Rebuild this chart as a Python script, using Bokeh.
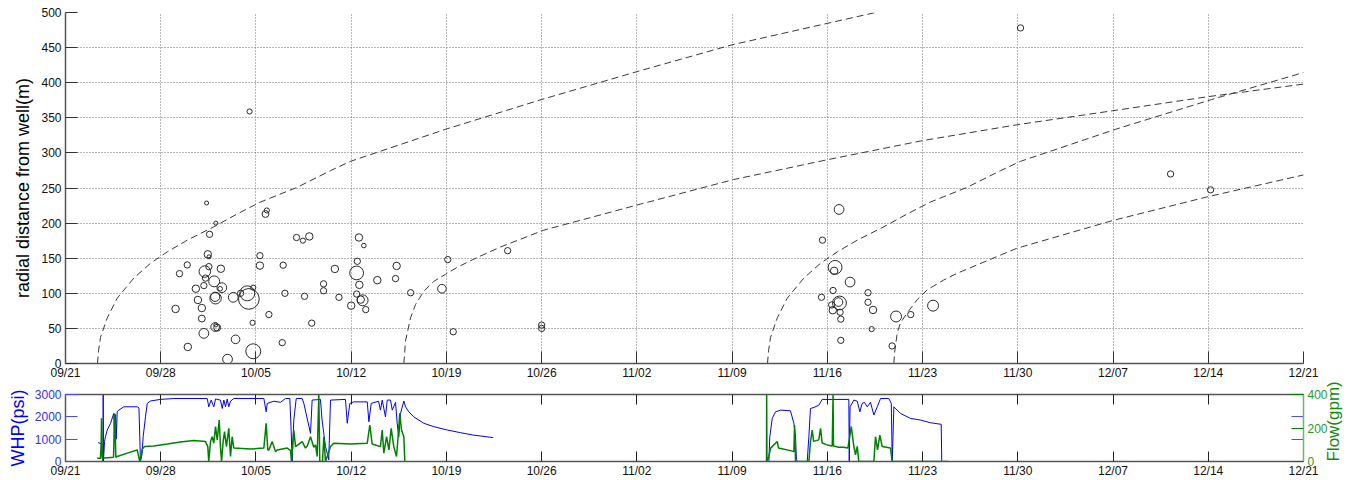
import math
from bokeh.plotting import figure
from bokeh.layouts import column
from bokeh.models import Range1d, LinearAxis, FixedTicker
from bokeh.embed import file_html
from bokeh.resources import INLINE

NAN = float("nan")
FONT = "Liberation Sans"

# ---------------- axes ----------------
tick_days = [0, 7, 14, 21, 28, 35, 42, 49, 56, 63, 70, 77, 84, 91]
tick_labels = ["09/21", "09/28", "10/05", "10/12", "10/19", "10/26", "11/02",
               "11/09", "11/16", "11/23", "11/30", "12/07", "12/14", "12/21"]
dist_ticks = [0, 50, 100, 150, 200, 250, 300, 350, 400, 450, 500]
whp_ticks = [0, 1000, 2000, 3000]
flow_ticks = [0, 200, 400]

# ---------------- seismic events (days after 09/21, radial distance m, relative size) ----------------
ev_day = [10.37, 14.70, 14.80, 11.05, 10.59, 10.46, 10.55, 14.29, 8.95, 10.54,
          11.42, 14.29, 16.0, 8.38, 10.24, 10.29, 10.93, 11.49, 11.37, 9.58,
          10.17, 11.03, 11.0, 12.33, 13.36, 13.48, 12.87, 13.8, 16.13, 9.73,
          10.02, 8.09, 10.02, 14.95, 11.0, 11.15, 11.05, 13.75, 10.17, 12.5,
          8.99, 15.93, 13.8, 11.91, 16.98, 17.45, 17.92, 21.57, 21.93, 19.8,
          21.45, 21.4, 22.92, 24.34, 24.26, 18.97, 18.97, 21.6, 17.57, 20.1,
          21.4, 21.84, 21.7, 21.0, 22.07, 25.37, 18.1, 28.1, 32.5, 27.67,
          28.5, 35.0, 35.0, 56.86, 55.64, 56.57, 56.5, 57.67, 56.42, 55.57,
          56.89, 56.82, 56.32, 56.4, 56.94, 56.99, 58.99, 58.99, 59.36, 59.26,
          56.99, 61.05, 62.13, 63.77, 60.76, 13.53, 70.2, 81.23, 84.17]
ev_dist = [228.6, 213, 218, 200, 184, 155.5, 152, 153.6, 140.4, 138,
           135, 139.5, 140, 128, 131, 121.6, 117, 108, 106.5, 106.5,
           111, 93, 95, 94.3, 100, 92, 100, 108, 100, 90.5,
           79, 77.7, 64, 69.7, 52, 51, 55, 58, 42.9, 34.4,
           23.6, 29.7, 17.4, 6.1, 179.5, 175, 181, 179.5, 168, 134.7,
           145.6, 129, 118.7, 139, 121, 113.5, 103.6, 112, 95.7, 94.3,
           99, 90, 91, 82.4, 76.8, 100.8, 57.5, 148, 160.7, 106.5,
           45.2, 54.7, 50, 219.5, 175.7, 137, 132, 116, 104, 94.3,
           86.2, 87.5, 83.4, 75.9, 73, 63.2, 100.8, 87.2, 76.3, 49,
           33, 67, 69.7, 82.4, 25, 359, 478, 270, 247.4]
ev_size = [3.5, 6, 4.5, 3.5, 5.5, 6.5, 3.5, 5.5, 5.5, 5.5,
           6.5, 6.5, 5.5, 5.5, 10, 5.5, 9.5, 8.5, 4, 6.5,
           5.5, 10, 8, 8.5, 13, 18, 5.5, 4.5, 5.5, 6.5,
           6.5, 6.5, 6, 5.5, 7.5, 6, 3.5, 4.5, 8.5, 7.5,
           6.5, 5.5, 13, 8.5, 5.5, 4.5, 6.5, 6.5, 4, 6.5,
           5.5, 12, 6.5, 6.5, 5.5, 5.5, 5.5, 6.5, 5.5, 5.5,
           5.5, 9.5, 6.5, 6.5, 5.5, 5.5, 5.5, 5.5, 5.5, 7.5,
           5.5, 5.5, 5.5, 8.5, 5.5, 12, 6.5, 8.5, 5.5, 5.5,
           12, 7.5, 5.5, 6.5, 5.5, 5.5, 5.5, 5.5, 6.5, 4.5,
           5.5, 9.5, 5.5, 9.5, 5.5, 4.5, 5.5, 5.5, 5.5]

# ---------------- triggering fronts ----------------
front_a_day = [2.35, 2.43, 2.57, 3.07, 3.80, 5.02, 6.25, 7.48, 8.95, 10.90,
               12.62, 14.33, 17.03, 19.48, 20.95, 27.93, 34.99, 41.97, 48.96, 59.54]
front_a_r = [0, 18, 37, 65, 93, 121.6, 142.8, 159, 175.7, 194.7,
             213, 230, 251, 274.7, 288, 333.6, 376, 415.6, 453.8, 500]
front_b_day = [24.87, 24.92, 24.99, 25.14, 25.36, 25.73, 26.34, 27.07, 27.93, 28.79,
               30.26, 31.98, 35.16, 42.26, 49.10, 55.94, 62.85, 69.91, 76.96, 83.95, 91.0]
front_b_r = [0, 12, 32, 45, 65, 84, 103, 117, 127, 137,
             151, 166, 190, 227, 262, 290, 317, 340, 360, 380, 398]
front_c_day = [51.60, 51.68, 51.82, 52.32, 53.05, 54.27, 55.50, 56.73, 58.20, 60.15,
               61.87, 63.58, 66.28, 68.73, 70.20, 77.18, 84.24, 91.0]
front_c_r = [0, 18, 37, 65, 93, 121.6, 142.8, 159, 175.7, 194.7,
             213, 230, 251, 274.7, 288, 333.6, 376, 414.5]
front_d_day = [60.89, 60.94, 61.14, 61.38, 61.87, 62.61, 63.34, 64.56, 65.55, 69.91,
               76.96, 83.95, 91.0]
front_d_r = [0, 15, 44, 58, 72, 91, 105, 119, 128.6, 164,
             203.6, 237.5, 268.6]

# ---------------- well head pressure (psi) ----------------
whp_day = [2.40, 2.65, 2.76, 2.77, 2.79, 2.87, 2.94, 3.07, 3.31, 3.55,
           3.60, 3.68, 3.73, 3.80, 3.92, 4.29, 5.27, 5.40, 5.51, 5.62,
           5.71, 5.88, 6.01, 6.25, 6.98, 7.96, 10.42, 10.53, 10.71, 10.90,
           11.03, 11.39, 11.52, 11.64, 11.76, 11.89, 12.0, 12.13, 12.37, 14.58,
           14.75, 14.83, 15.31, 15.80, 16.17, 16.49, 16.58, 16.66, 16.78, 16.96,
           17.40, 17.52, 18.01, 18.13, 18.74, 18.86, 19.11, 19.35, 19.48, 20.58,
           20.71, 20.90, 21.19, 22.18, 22.30, 22.47, 23.01, 23.15, 23.28, 23.52,
           23.65, 23.89, 24.02, 24.26, 24.38, 24.50, 24.63, 24.87, 24.99, 25.24,
           25.60, 26.34, 27.07, 28.06, 29.04, 30.01, 31.44, NAN,
           51.70, 51.77, 51.95, 52.19, 52.56, 53.29, 53.54, 53.66, 53.73, 53.81,
           54.52, 54.64, 54.76, 55.01, 55.37, 55.62, 57.58, 57.61, 57.67, 57.95,
           58.20, 58.39, 58.56, 58.73, 58.93, 59.17, 59.42, 59.67, 59.91, 60.52,
           60.70, 60.77, 60.89, 61.38, 62.11, 62.85, 63.58, 64.37, 64.41, 65.05]
whp_psi = [845, 790, 0, 3000, 0, 900, 1110, 1410, 1710, 2150,
           900, 2100, 1000, 2225, 2300, 2450, 2450, 2400, 0, 300,
           1110, 2000, 2600, 2710, 2780, 2820, 2820, 2450, 2750, 2450,
           2800, 2750, 2375, 2750, 2450, 2800, 2450, 2700, 2820, 2820,
           2225, 2600, 2700, 2650, 2820, 2820, 1500, 0, 1850, 2820,
           2820, 2600, 1260, 2750, 2780, 1855, 670, 75, 2750, 2780,
           1710, 2600, 2670, 2670, 1780, 2600, 2700, 2300, 2750, 2000,
           2750, 2750, 2300, 2650, 1710, 1110, 2150, 2710, 2450, 2225,
           2000, 1710, 1560, 1410, 1290, 1180, 1070, NAN,
           0, 1110, 1930, 2225, 2300, 2270, 1710, 1110, 75, 0,
           0, 1110, 2375, 2420, 2520, 2780, 2780, 0, 2450, 2750,
           2700, 2225, 2600, 2650, 2450, 2650, 2080, 2450, 2820, 2820,
           2600, 0, 2450, 2150, 1930, 1855, 1735, 1665, 0, 0]

# ---------------- injection flow (gpm) ----------------
flow_day = [2.33, 2.57, 2.62, 2.65, 2.70, 3.53, 3.62, 3.70, 3.80, 4.54,
            5.27, 5.46, 5.64, 5.81, 6.49, 7.48, 8.45, 9.43, 10.29, 10.46,
            10.53, 10.66, 10.78, 10.90, 11.03, 11.15, 11.30, 11.39, 11.47, 11.59,
            11.69, 11.83, 12.0, 12.13, 12.25, 12.37, 13.60, 14.58, 14.75, 14.87,
            14.95, 15.19, 15.44, 15.56, 16.30, 16.54, 16.61, 16.78, 16.91, 17.40,
            17.64, 17.77, 18.01, 18.25, 18.38, 18.50, 18.62, 18.69, 18.89, 18.99,
            19.11, 19.48, 19.72, 20.95, 22.18, 22.37, 22.54, 23.15, 23.28, 23.40,
            23.60, 23.77, 23.94, 24.13, 24.33, 24.43, 24.57, 24.70, 24.87, 24.94, NAN,
            51.53, 51.54, 51.56, 51.70, 51.83, 52.32, 52.41, 53.29, 53.54, 53.59,
            53.66, 54.64, 54.76, 54.89, 54.99, 55.37, 55.50, 55.62, 55.99, 56.36,
            56.42, 56.45, 56.84, 57.21, 57.51, 57.76, 57.93, 58.07, 58.20, 58.31,
            59.42, 59.54, 59.69, 59.86, 60.03, 60.64, 60.77, 64.91]
flow_gpm = [20, 20, 100, 258, 20, 26, 287, 25, 30, 50,
            69, 0, 74, 89, 93, 105, 117, 125, 119, 89,
            0, 119, 148, 110, 208, 129, 247, 89, 0, 120,
            178, 89, 198, 30, 148, 80, 74, 80, 228, 69,
            69, 119, 59, 69, 80, 65, 0, 188, 89, 119,
            80, 93, 148, 85, 99, 30, 400, 0, 0, 148,
            0, 89, 109, 105, 109, 218, 105, 89, 188, 50,
            148, 69, 198, 89, 30, 129, 287, 188, 148, 0, NAN,
            0, 400, 0, 30, 80, 119, 80, 65, 59, 218,
            0, 0, 119, 188, 120, 129, 198, 110, 99, 93,
            400, 93, 85, 85, 80, 208, 100, 40, 90, 0,
            0, 148, 70, 158, 89, 80, 0, 0]

label_map = {d: s for d, s in zip(tick_days, tick_labels)}

AX_COLOR = "#555555"
TICK_LEN = 12

# ================= top panel =================
top = figure(width=1364, height=382, x_range=Range1d(0, 91), y_range=Range1d(0, 500),
             output_backend="svg", toolbar_location=None,
             min_border_left=65, min_border_right=61, min_border_top=12, min_border_bottom=16,
             outline_line_color=None, background_fill_color="white", border_fill_color="white")

xa = top.xaxis[0]
xa.ticker = FixedTicker(ticks=tick_days)
xa.major_label_overrides = label_map
ya = top.yaxis[0]
ya.ticker = FixedTicker(ticks=dist_ticks)
ya.axis_label = "radial distance from well(m)"
ya.axis_label_standoff = 5
ya.axis_label_text_font_size = "18px"
ya.axis_label_text_font_style = "normal"
ya.axis_label_text_font = FONT
ya.axis_label_text_color = "#000000"
for ax in (xa, ya):
    ax.axis_line_color = AX_COLOR
    ax.axis_line_width = 1.5
    ax.major_tick_in = TICK_LEN
    ax.major_tick_out = 0
    ax.major_tick_line_color = "#333333"
    ax.minor_tick_line_color = None
    ax.major_label_text_font = FONT
    ax.major_label_text_font_size = "12px"
    ax.major_label_text_color = "#111111"
    ax.major_label_standoff = 4
xa.major_label_standoff = 2

for g in (top.xgrid[0], top.ygrid[0]):
    g.grid_line_color = "#707070"
    g.grid_line_dash = "1 2"
    g.grid_line_width = 1

for fd, fr in ((front_a_day, front_a_r), (front_b_day, front_b_r),
               (front_c_day, front_c_r), (front_d_day, front_d_r)):
    top.line(fd, fr, line_color="#3a3a3a", line_width=1, line_dash="7 4")

top.scatter(ev_day, ev_dist, size=[s * 1.15 for s in ev_size], marker="circle",
            fill_color=None, line_color="#2a2a2a", line_width=1)

# ================= bottom panel =================
bot = figure(width=1364, height=98, x_range=Range1d(0, 91), y_range=Range1d(0, 3000),
             output_backend="svg", toolbar_location=None,
             min_border_left=65, min_border_right=61, min_border_top=12, min_border_bottom=18,
             outline_line_color=None, background_fill_color="white", border_fill_color="white")
bot.xgrid.visible = False
bot.ygrid.visible = False
bot.extra_y_ranges = {"flow": Range1d(0, 400)}

bx = bot.xaxis[0]
bx.ticker = FixedTicker(ticks=tick_days)
bx.major_label_overrides = label_map
bx.axis_line_color = AX_COLOR
bx.axis_line_width = 1.5
bx.major_tick_in = 10
bx.major_tick_out = 0
bx.major_tick_line_color = "#222222"
bx.minor_tick_line_color = None
bx.major_label_text_font = FONT
bx.major_label_text_font_size = "12px"
bx.major_label_text_color = "#111111"
bx.major_label_standoff = 2

by = bot.yaxis[0]
by.ticker = FixedTicker(ticks=whp_ticks)
by.axis_label = "WHP(psi)"
by.axis_label_standoff = 4
by.axis_label_text_font_size = "18px"
by.axis_label_text_font_style = "normal"
by.axis_label_text_font = FONT
by.axis_label_text_color = "#0000ff"
by.axis_line_color = AX_COLOR
by.axis_line_width = 1.5
by.major_tick_in = TICK_LEN
by.major_tick_out = 0
by.major_tick_line_color = "#4a4aff"
by.minor_tick_line_color = None
by.major_label_text_font = FONT
by.major_label_text_font_size = "12px"
by.major_label_text_color = "#3030ff"
by.major_label_standoff = 4

ax_top = LinearAxis(ticker=FixedTicker(ticks=tick_days), major_label_text_font_size="1px",
                    major_label_text_color=None,
                    major_label_standoff=0, major_tick_in=10, major_tick_out=0,
                    minor_tick_line_color=None, major_tick_line_color="#222222",
                    axis_line_color=AX_COLOR, axis_line_width=1.5)
bot.add_layout(ax_top, "above")

ax_rw = LinearAxis(ticker=FixedTicker(ticks=[1000, 2000]), major_label_text_font_size="1px",
                   major_label_text_color=None,
                   major_label_standoff=0, major_tick_in=TICK_LEN, major_tick_out=0,
                   minor_tick_line_color=None, major_tick_line_color="#4a4aff",
                   axis_line_color=None)
bot.add_layout(ax_rw, "right")

ax_flow = LinearAxis(y_range_name="flow", ticker=FixedTicker(ticks=flow_ticks),
                     axis_label="Flow(gpm)", axis_label_standoff=3,
                     axis_label_text_font_size="17px", axis_label_text_font_style="normal",
                     axis_label_text_font=FONT, axis_label_text_color="#108a10",
                     axis_line_color="#66bb66", axis_line_width=1.5,
                     major_tick_in=TICK_LEN, major_tick_out=0,
                     major_tick_line_color="#008000", minor_tick_line_color=None,
                     major_label_text_font=FONT, major_label_text_font_size="12px",
                     major_label_text_color="#2a9a2a", major_label_standoff=4)
try:
    ax_flow.axis_label_orientation = 1.5706
    ax_flow.axis_label_align = "start"
except Exception:
    pass
bot.add_layout(ax_flow, "right")

bot.line(whp_day, whp_psi, line_color="#0000ff", line_width=1)
bot.line(flow_day, flow_gpm, line_color="#008000", line_width=1.5, y_range_name="flow")

layout = column(top, bot, spacing=0)
open("out.html", "w").write(file_html(layout, INLINE))
